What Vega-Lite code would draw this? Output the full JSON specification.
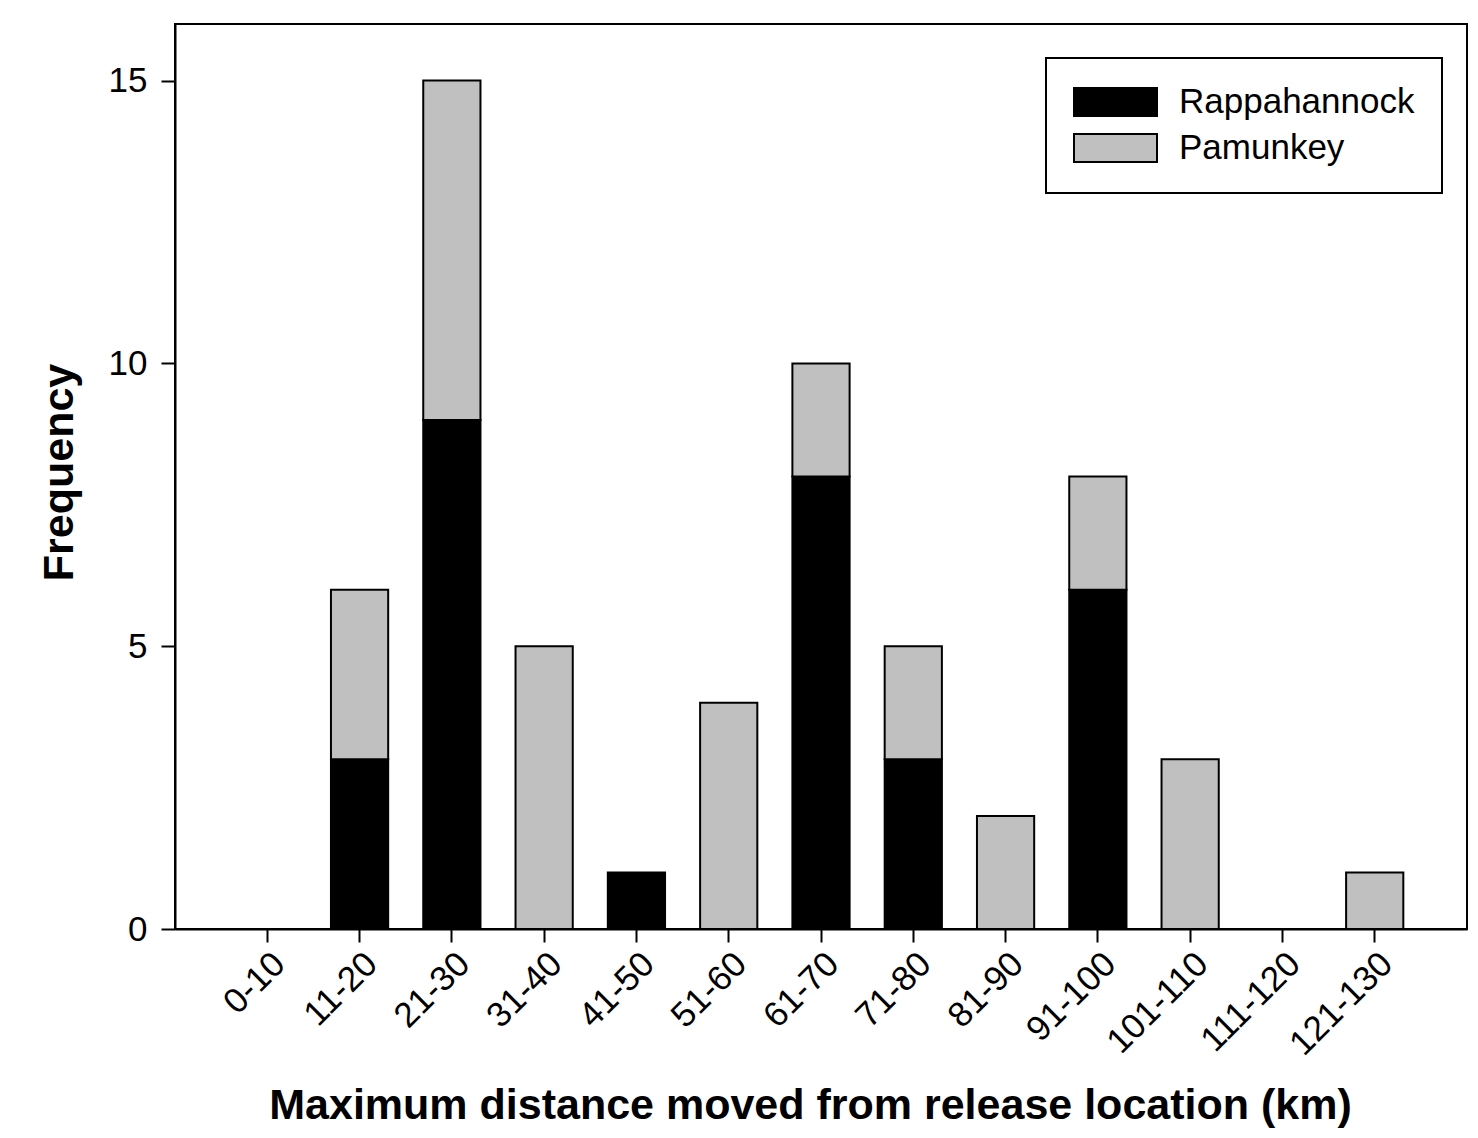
{
  "$schema": "https://vega.github.io/schema/vega-lite/v6.json",
  "width": 1292,
  "height": 905,
  "autosize": {"type": "none"},
  "padding": {"left": 175, "top": 24, "right": 11, "bottom": 209},
  "background": "white",
  "config": {
    "font": "Liberation Sans",
    "view": {"stroke": "black", "strokeWidth": 2},
    "axis": {"grid": false, "domainColor": "black", "domainWidth": 2, "tickColor": "black", "tickWidth": 2, "labelColor": "black", "titleColor": "black", "labelFont": "Liberation Sans", "titleFont": "Liberation Sans"}
  },
  "data": {
    "values": [
      {"range": "0-10", "river": "Rappahannock", "count": 0},
      {"range": "0-10", "river": "Pamunkey", "count": 0},
      {"range": "11-20", "river": "Rappahannock", "count": 3},
      {"range": "11-20", "river": "Pamunkey", "count": 3},
      {"range": "21-30", "river": "Rappahannock", "count": 9},
      {"range": "21-30", "river": "Pamunkey", "count": 6},
      {"range": "31-40", "river": "Rappahannock", "count": 0},
      {"range": "31-40", "river": "Pamunkey", "count": 5},
      {"range": "41-50", "river": "Rappahannock", "count": 1},
      {"range": "41-50", "river": "Pamunkey", "count": 0},
      {"range": "51-60", "river": "Rappahannock", "count": 0},
      {"range": "51-60", "river": "Pamunkey", "count": 4},
      {"range": "61-70", "river": "Rappahannock", "count": 8},
      {"range": "61-70", "river": "Pamunkey", "count": 2},
      {"range": "71-80", "river": "Rappahannock", "count": 3},
      {"range": "71-80", "river": "Pamunkey", "count": 2},
      {"range": "81-90", "river": "Rappahannock", "count": 0},
      {"range": "81-90", "river": "Pamunkey", "count": 2},
      {"range": "91-100", "river": "Rappahannock", "count": 6},
      {"range": "91-100", "river": "Pamunkey", "count": 2},
      {"range": "101-110", "river": "Rappahannock", "count": 0},
      {"range": "101-110", "river": "Pamunkey", "count": 3},
      {"range": "111-120", "river": "Rappahannock", "count": 0},
      {"range": "111-120", "river": "Pamunkey", "count": 0},
      {"range": "121-130", "river": "Rappahannock", "count": 0},
      {"range": "121-130", "river": "Pamunkey", "count": 1}
    ]
  },
  "transform": [
    {"filter": "datum.count > 0"},
    {"calculate": "datum.river === 'Rappahannock' ? 0 : 1", "as": "ord"}
  ],
  "mark": {"type": "bar", "stroke": "black", "strokeWidth": 2},
  "encoding": {
    "x": {
      "field": "range",
      "type": "nominal",
      "sort": ["0-10", "11-20", "21-30", "31-40", "41-50", "51-60", "61-70", "71-80", "81-90", "91-100", "101-110", "111-120", "121-130"],
      "scale": {"domain": ["0-10", "11-20", "21-30", "31-40", "41-50", "51-60", "61-70", "71-80", "81-90", "91-100", "101-110", "111-120", "121-130"], "paddingInner": 0.38, "paddingOuter": 0.69},
      "axis": {
        "title": "Maximum distance moved from release location (km)",
        "titleFontSize": 43,
        "titleFontWeight": "bold",
        "titleX": 635,
        "titleY": 189,
        "titleBaseline": "alphabetic",
        "titleAlign": "center",
        "labelAngle": -45,
        "labelAlign": "right",
        "labelBaseline": "top",
        "labelFontSize": 35,
        "labelPadding": 4,
        "tickSize": 13
      }
    },
    "y": {
      "field": "count",
      "type": "quantitative",
      "aggregate": "sum",
      "stack": "zero",
      "scale": {"domain": [0, 16], "nice": false},
      "axis": {
        "title": "Frequency",
        "titleFontSize": 43,
        "titleFontWeight": "bold",
        "titleAngle": 270,
        "titleX": -103,
        "titleY": 448,
        "titleBaseline": "alphabetic",
        "titleAlign": "center",
        "values": [0, 5, 10, 15],
        "labelFontSize": 35,
        "labelPadding": 14,
        "tickSize": 14
      }
    },
    "order": {"field": "ord", "type": "quantitative"},
    "fill": {
      "field": "river",
      "type": "nominal",
      "scale": {"domain": ["Rappahannock", "Pamunkey"], "range": ["#000000", "#c0c0c0"]},
      "legend": {
        "title": null,
        "orient": "none",
        "legendX": 871,
        "legendY": 34,
        "strokeColor": "black",
        "fillColor": "white",
        "padding": 27,
        "symbolType": "M-1,-0.34H1V0.34H-1Z",
        "symbolSize": 6889,
        "symbolStrokeColor": "black",
        "symbolStrokeWidth": 2,
        "symbolOpacity": 1,
        "clipHeight": 34,
        "labelFontSize": 35,
        "labelLimit": 500,
        "labelColor": "black",
        "labelOffset": 21,
        "rowPadding": 11,
        "encode": {"legend": {"update": {"strokeWidth": {"value": 2}}}}
      }
    }
  }
}
